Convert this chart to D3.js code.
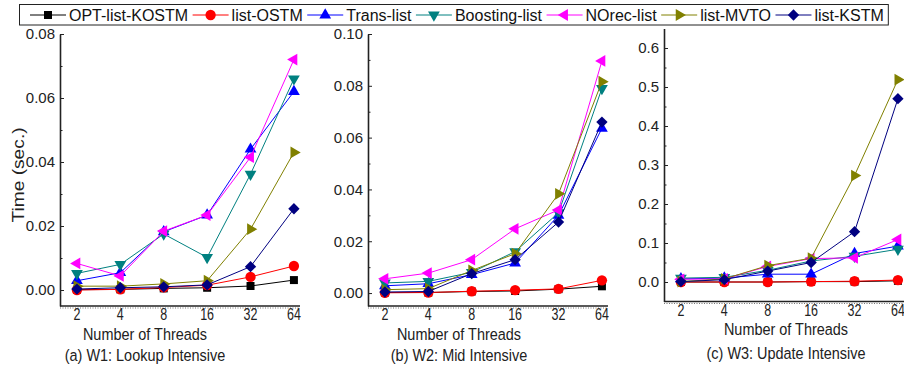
<!DOCTYPE html>
<html>
<head>
<meta charset="utf-8">
<script src="https://cdn.jsdelivr.net/npm/d3@7"></script>
<style>
  html, body { margin: 0; padding: 0; background: #fff; }
  svg { display: block; font-family: "Liberation Sans", Arial, sans-serif; }
</style>
</head>
<body>
<svg id="chart" width="904" height="373"></svg>
<script>
// Thread counts on the x axis
const threads = ["2", "4", "8", "16", "32", "64"];

// Series, in legend order
const seriesNames = ["OPT-list-KOSTM", "list-OSTM", "Trans-list", "Boosting-list", "NOrec-list", "list-MVTO", "list-KSTM"];
const seriesColors = ["#000000", "#ff0000", "#0000ff", "#008080", "#ff00ff", "#808000", "#000080"];
const seriesSymbols = ["square", "circle", "triUp", "triDown", "triLeft", "triRight", "diamond"];

// W1: Lookup Intensive — time (sec.) per series
const w1Lookup = [
  [0.0001, 0.0002, 0.0005, 0.0007, 0.00125, 0.0031],
  [0.0000, 0.0002, 0.0008, 0.0015, 0.0041, 0.0075],
  [0.0029, 0.0054, 0.0182, 0.0234, 0.0440, 0.0620],
  [0.0052, 0.0080, 0.0175, 0.0102, 0.0362, 0.0660],
  [0.0083, 0.0044, 0.0184, 0.0234, 0.0415, 0.0720],
  [0.0012, 0.0012, 0.0019, 0.0029, 0.0190, 0.0430],
  [0.0003, 0.0007, 0.0010, 0.0016, 0.0073, 0.0254]
];

// W2: Mid Intensive
const w2Mid = [
  [0.0002, 0.0002, 0.0006, 0.0008, 0.0015, 0.0026],
  [0.0001, 0.0002, 0.0007, 0.0011, 0.0016, 0.0049],
  [0.0028, 0.0036, 0.0071, 0.0116, 0.0300, 0.0636],
  [0.0039, 0.0045, 0.0080, 0.0160, 0.0310, 0.0790],
  [0.0055, 0.0077, 0.0129, 0.0248, 0.0321, 0.0896],
  [0.0013, 0.0017, 0.0087, 0.0152, 0.0383, 0.0816],
  [0.0004, 0.0006, 0.0075, 0.0129, 0.0274, 0.0660]
];

// W3: Update Intensive
const w3Update = [
  [0.000, 0.000, 0.000, 0.001, 0.001, 0.003],
  [0.000, 0.000, 0.000, 0.001, 0.002, 0.005],
  [0.008, 0.010, 0.020, 0.020, 0.073, 0.092],
  [0.010, 0.012, 0.030, 0.054, 0.066, 0.084],
  [0.007, 0.008, 0.040, 0.060, 0.062, 0.109],
  [0.001, 0.008, 0.042, 0.061, 0.273, 0.519],
  [0.001, 0.006, 0.028, 0.050, 0.129, 0.470]
];

// Y axis tick values per panel
const w1Ticks = [0.00, 0.02, 0.04, 0.06, 0.08];
const w2Ticks = [0.00, 0.02, 0.04, 0.06, 0.08, 0.10];
const w3Ticks = [0.0, 0.1, 0.2, 0.3, 0.4, 0.5, 0.6];

const captions = ["(a) W1: Lookup Intensive", "(b) W2: Mid Intensive", "(c) W3: Update Intensive"];

const panels = [
  { data: w1Lookup, ticks: w1Ticks, fmt: ".2f", domain: [-0.005, 0.08], left: 60, right: 300, top: 34, bottom: 306, caption: captions[0], textX: 145, tickY: 320, titleY: 340, capY: 361 },
  { data: w2Mid, ticks: w2Ticks, fmt: ".2f", domain: [-0.005, 0.10], left: 368, right: 608, top: 34, bottom: 306, caption: captions[1], textX: 459, tickY: 320, titleY: 340, capY: 361 },
  { data: w3Update, ticks: w3Ticks, fmt: ".1f", domain: [-0.05, 0.65], left: 664, right: 904, top: 28.5, bottom: 301.5, caption: captions[2], textX: 786, tickY: 316, titleY: 335, capY: 359 }
];

const svg = d3.select("#chart");

// Marker shapes
function symbolPath(kind) {
  const tri = d3.symbol(d3.symbolTriangle, 60)();
  switch (kind) {
    case "square": return { d: d3.symbol(d3.symbolSquare, 64)(), rot: 0 };
    case "circle": return { d: d3.symbol(d3.symbolCircle, 84)(), rot: 0 };
    case "triUp": return { d: tri, rot: 0 };
    case "triDown": return { d: tri, rot: 180 };
    case "triLeft": return { d: tri, rot: -90 };
    case "triRight": return { d: tri, rot: 90 };
    case "diamond": return { d: d3.symbol(d3.symbolSquare, 64)(), rot: 45 };
  }
}

panels.forEach(p => {
  const g = svg.append("g");
  const x = d3.scaleLinear().domain([-0.39, 5.14]).range([p.left, p.right]);
  const y = d3.scaleLinear().domain(p.domain).range([p.bottom, p.top]);

  // Minor ticks halfway between majors
  const step = p.ticks[1] - p.ticks[0];
  const minor = p.ticks.map(t => t + step / 2).filter(t => t < p.domain[1]);
  g.append("g")
    .attr("transform", `translate(${p.left},0)`)
    .call(d3.axisLeft(y).tickValues(minor).tickSize(-2.5).tickSizeOuter(0).tickFormat(""))
    .call(a => a.select(".domain").remove())
    .call(a => a.selectAll("line").attr("stroke", "#222").attr("stroke-width", 1));

  // Y axis with inward ticks
  const yAxis = g.append("g")
    .attr("transform", `translate(${p.left},0)`)
    .call(d3.axisLeft(y).tickValues(p.ticks).tickFormat(d3.format(p.fmt)).tickSize(-4).tickSizeOuter(0).tickPadding(5));
  yAxis.select(".domain").attr("stroke", "#222").attr("stroke-width", 1.6);
  yAxis.selectAll(".tick line").attr("stroke", "#222").attr("stroke-width", 1);
  yAxis.selectAll(".tick text").attr("font-size", 15).attr("fill", "#222")
    .attr("font-family", "'Liberation Sans', Arial, sans-serif");

  // X axis line with its dotted under-edge
  g.append("line").attr("x1", p.left).attr("x2", p.right).attr("y1", p.bottom).attr("y2", p.bottom)
    .attr("stroke", "#222").attr("stroke-width", 1.6);
  g.append("line").attr("x1", p.left).attr("x2", p.right).attr("y1", p.bottom + 2).attr("y2", p.bottom + 2)
    .attr("stroke", "#777").attr("stroke-width", 1.2).attr("stroke-dasharray", "1 1.5");

  // X tick labels
  g.append("g").selectAll("text").data(threads).join("text")
    .attr("transform", (d, i) => `translate(${x(i)},${p.tickY}) scale(0.78,1)`)
    .attr("text-anchor", "middle").attr("font-size", 16).attr("fill", "#222").text(d => d);

  g.append("text").attr("transform", `translate(${p.textX},${p.titleY}) scale(0.85,1)`)
    .attr("text-anchor", "middle").attr("font-size", 17).attr("fill", "#222").text("Number of Threads");
  g.append("text").attr("transform", `translate(${p.textX},${p.capY}) scale(0.85,1)`)
    .attr("text-anchor", "middle").attr("font-size", 17).attr("fill", "#222").text(p.caption);

  // Series: line then markers
  p.data.forEach((vals, si) => {
    const col = seriesColors[si];
    const sg = g.append("g");
    sg.append("path").datum(vals)
      .attr("fill", "none").attr("stroke", col).attr("stroke-width", 1)
      .attr("d", d3.line().x((d, i) => x(i)).y(d => y(d)));
    const sym = symbolPath(seriesSymbols[si]);
    sg.selectAll("path.m").data(vals).join("path").attr("class", "m")
      .attr("d", sym.d).attr("fill", col)
      .attr("transform", (d, i) => `translate(${x(i)},${y(d)}) rotate(${sym.rot})`);
  });
});

// Y axis title on the first panel
svg.append("text")
  .attr("transform", `translate(24,175) rotate(-90) scale(1.2,1)`)
  .attr("text-anchor", "middle").attr("font-size", 16).attr("fill", "#222").text("Time (sec.)");

// Legend across the top
const legend = svg.append("g");
const legendBox = legend.append("rect").attr("x", 19.5).attr("y", 4.5).attr("height", 20.5)
  .attr("fill", "#fff").attr("stroke", "#222").attr("stroke-width", 1);
let lx = 30;
seriesNames.forEach((name, si) => {
  const col = seriesColors[si];
  const item = legend.append("g");
  item.append("line").attr("x1", lx).attr("x2", lx + 36).attr("y1", 15).attr("y2", 15)
    .attr("stroke", col).attr("stroke-width", 1);
  const sym = symbolPath(seriesSymbols[si]);
  item.append("path").attr("d", sym.d).attr("fill", col)
    .attr("transform", `translate(${lx + 18},15) rotate(${sym.rot})`);
  const t = item.append("text").attr("x", lx + 39).attr("y", 21).attr("font-size", 16).attr("fill", "#111").text(name);
  lx = lx + 39 + t.node().getComputedTextLength() + 4.5;
});
legendBox.attr("width", lx - 19.5);
</script>
</body>
</html>
